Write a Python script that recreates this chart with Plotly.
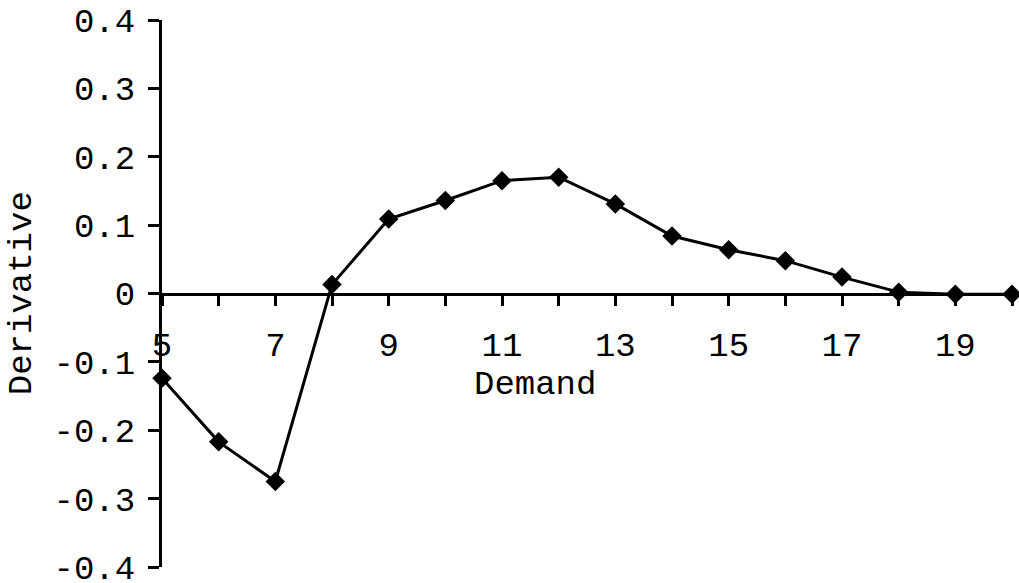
import plotly.graph_objects as go

# Derivative of the objective with respect to demand
demand = [5, 6, 7, 8, 9, 10, 11, 12, 13, 14, 15, 16, 17, 18, 19, 20]
derivative = [-0.124, -0.217, -0.275, 0.013, 0.109, 0.136, 0.165, 0.170,
              0.131, 0.084, 0.064, 0.048, 0.024, 0.002, -0.001, -0.001]

y_tickvals = [0.4, 0.3, 0.2, 0.1, 0, -0.1, -0.2, -0.3, -0.4]
y_ticktext = ["0.4", "0.3", "0.2", "0.1", "0", "-0.1", "-0.2", "-0.3", "-0.4"]
x_tickvals = [5, 7, 9, 11, 13, 15, 17, 19]

FONT = "Liberation Mono, Courier New, monospace"
FS = 34

fig = go.Figure()
fig.add_trace(go.Scatter(
    x=demand, y=derivative, mode="lines+markers",
    line=dict(color="black", width=3),
    marker=dict(symbol="diamond", size=15, color="black"),
    cliponaxis=False, showlegend=False,
))

fig.update_layout(
    width=1019, height=583,
    margin=dict(l=162, r=7, t=20, b=16, autoexpand=False),
    paper_bgcolor="white", plot_bgcolor="white",
    font=dict(family=FONT, size=FS, color="black"),
    xaxis=dict(
        range=[5, 20], anchor="free", position=0.5, automargin=False,
        showline=True, linecolor="black", linewidth=3,
        showgrid=False, zeroline=False,
        tickvals=x_tickvals, ticks="outside", ticklen=10, tickwidth=2.5,
        tickcolor="black", ticklabelstandoff=10,
        minor=dict(dtick=1, tick0=5, ticks="outside", ticklen=10,
                   tickwidth=2.5, tickcolor="black", showgrid=False),
        tickfont=dict(family=FONT, size=FS, color="black"),
    ),
    yaxis=dict(
        range=[-0.4, 0.4], automargin=False,
        showline=True, linecolor="black", linewidth=3,
        showgrid=False, zeroline=False,
        tickvals=y_tickvals, ticktext=y_ticktext,
        ticks="outside", ticklen=11, tickwidth=2.5, tickcolor="black",
        ticklabelstandoff=6, ticklabeloverflow="allow",
        tickfont=dict(family=FONT, size=FS, color="black"),
    ),
    annotations=[
        dict(text="Demand", xref="paper", yref="paper", x=0.439, y=0.333,
             xanchor="center", yanchor="middle", showarrow=False,
             font=dict(family=FONT, size=FS, color="black")),
        dict(text="Derivative", xref="paper", yref="paper", x=-0.165, y=0.5,
             xanchor="center", yanchor="middle", textangle=-90, showarrow=False,
             font=dict(family=FONT, size=FS, color="black")),
    ],
)

fig.write_html("out.html")
